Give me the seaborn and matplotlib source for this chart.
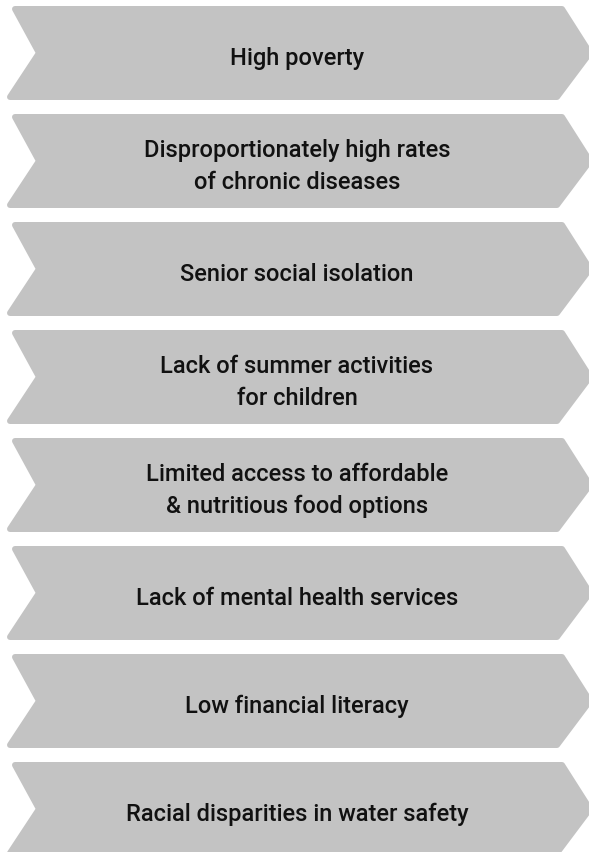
import matplotlib
matplotlib.use("Agg")
import matplotlib.pyplot as plt
from matplotlib.patches import Polygon
import seaborn as sns

# chevron labels, top to bottom
labels = [
    "High poverty",
    "Disproportionately high rates\nof chronic diseases",
    "Senior social isolation",
    "Lack of summer activities\nfor children",
    "Limited access to affordable\n& nutritious food options",
    "Lack of mental health services",
    "Low financial literacy",
    "Racial disparities in water safety",
]

W, H = 589, 853
FILL = "#c3c3c3"
TEXT = "#111111"

sns.set_theme(style="white")
plt.rcParams["font.family"] = ["Roboto", "DejaVu Sans"]

fig = plt.figure(figsize=(W / 100, H / 100), dpi=100)
ax = fig.add_axes([0, 0, 1, 1])
ax.set_xlim(0, W)
ax.set_ylim(H, 0)
ax.axis("off")

step, height = 108, 94
inset = 3.0
for i, lab in enumerate(labels):
    top = 7 + step * i
    bot = top + height
    mid = top + height / 2
    pts = [
        (12 + inset, top + inset),
        (565 - inset, top + inset),
        (593 - inset, mid),
        (560 - inset, bot - inset),
        (7 + inset, bot - inset),
        (36 + inset, mid),
    ]
    ax.add_patch(Polygon(pts, closed=True, facecolor=FILL, edgecolor=FILL,
                         linewidth=2 * inset * 0.72, joinstyle="round"))
    ax.text(297, mid + 4.5, lab, ha="center", va="center", fontsize=17,
            fontweight="medium", color=TEXT, linespacing=1.45)

fig.savefig("out.png", dpi=100)
plt.close(fig)
